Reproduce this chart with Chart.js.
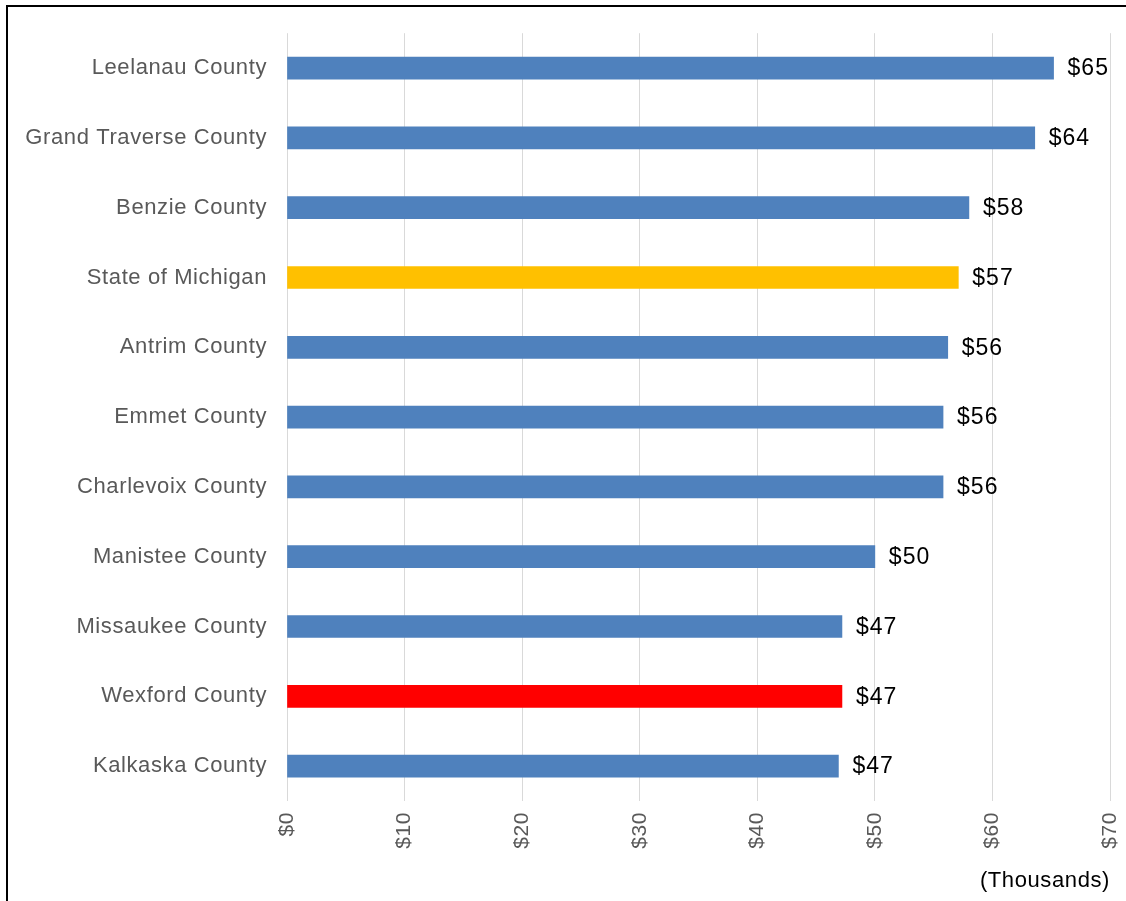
<!DOCTYPE html>
<html>
<head>
<meta charset="utf-8">
<script src="https://cdn.jsdelivr.net/npm/chart.js@4/dist/chart.umd.min.js"></script>
<style>
  body { margin: 0; background: #fff; }
  #wrap { width: 1126px; height: 901px; }
</style>
</head>
<body>
<div id="wrap"><canvas id="incomeChart" width="1126" height="901"></canvas></div>
<script>
const counties = ["Leelanau County", "Grand Traverse County", "Benzie County", "State of Michigan",
    "Antrim County", "Emmet County", "Charlevoix County", "Manistee County",
    "Missaukee County", "Wexford County", "Kalkaska County"]
const income = [65.2, 63.6, 58.0, 57.1, 56.2, 55.8, 55.8, 50.0, 47.2, 47.2, 46.9]
const xTicks = [0, 10, 20, 30, 40, 50, 60, 70]

const blue = "#4F81BD"
const colors = counties.map(c => {
    if (c === "State of Michigan") return "#FFC000"
    if (c === "Wexford County") return "#FF0000"
    return blue
})

const font = "'Liberation Sans', Arial, sans-serif"

// Excel-ish text is a bit wider than plain Arial
const spacing = "0.6px"
function setSpacing(chart) {
    chart.ctx.letterSpacing = spacing
}

// white page + black frame round the chart
const frame = {
    id: "frame",
    beforeInit: setSpacing,
    beforeLayout: setSpacing,
    beforeDraw(chart) {
        const c = chart.ctx
        c.letterSpacing = spacing
        c.save()
        c.fillStyle = "#fff"
        c.fillRect(0, 0, chart.width, chart.height)
        c.strokeStyle = "#000"
        c.lineWidth = 2
        c.beginPath()
        c.moveTo(7, chart.height + 5)
        c.lineTo(7, 6)
        c.lineTo(chart.width + 5, 6)
        c.stroke()
        c.restore()
    }
}

// "$65" labels at the end of each bar
const barLabels = {
    id: "barLabels",
    afterDatasetsDraw(chart) {
        const c = chart.ctx
        const meta = chart.getDatasetMeta(0)
        c.save()
        c.font = "23px " + font
        c.letterSpacing = "1px"
        c.fillStyle = "#000"
        c.textBaseline = "middle"
        c.textAlign = "left"
        meta.data.forEach((bar, i) => {
            c.fillText("$" + Math.round(income[i]), bar.x + 14, bar.y + 1)
        })
        c.restore()
    }
}

const ctx = document.getElementById("incomeChart")

new Chart(ctx, {
    type: "bar",
    data: {
        labels: counties,
        datasets: [{
            data: income,
            backgroundColor: colors,
            barThickness: 22
        }]
    },
    options: {
        indexAxis: "y",
        responsive: false,
        animation: false,
        layout: { padding: { top: 32, right: 16, left: 0, bottom: 0 } },
        plugins: {
            legend: { display: false },
            tooltip: { enabled: false }
        },
        scales: {
            x: {
                min: 0,
                max: 70,
                afterBuildTicks: scale => {
                    scale.ticks = xTicks.map(v => ({ value: v }))
                },
                afterFit: scale => {
                    scale.height = 100
                    scale.paddingLeft = 0
                    scale.paddingRight = 0
                },
                grid: { color: "#d9d9d9", drawTicks: false },
                border: { display: false },
                ticks: {
                    minRotation: 90,
                    maxRotation: 90,
                    padding: 11,
                    color: "#595959",
                    font: { family: font, size: 21 },
                    callback: v => "$" + v
                },
                title: {
                    display: true,
                    text: "(Thousands)",
                    align: "end",
                    color: "#000",
                    font: { family: font, size: 22 },
                    padding: { top: 0, bottom: 7 }
                }
            },
            y: {
                afterFit: scale => { scale.width = 287 },
                grid: { display: false, drawTicks: false },
                border: { display: false },
                ticks: {
                    padding: 20,
                    color: "#595959",
                    font: { family: font, size: 22 }
                }
            }
        }
    },
    plugins: [frame, barLabels]
})
</script>
</body>
</html>
